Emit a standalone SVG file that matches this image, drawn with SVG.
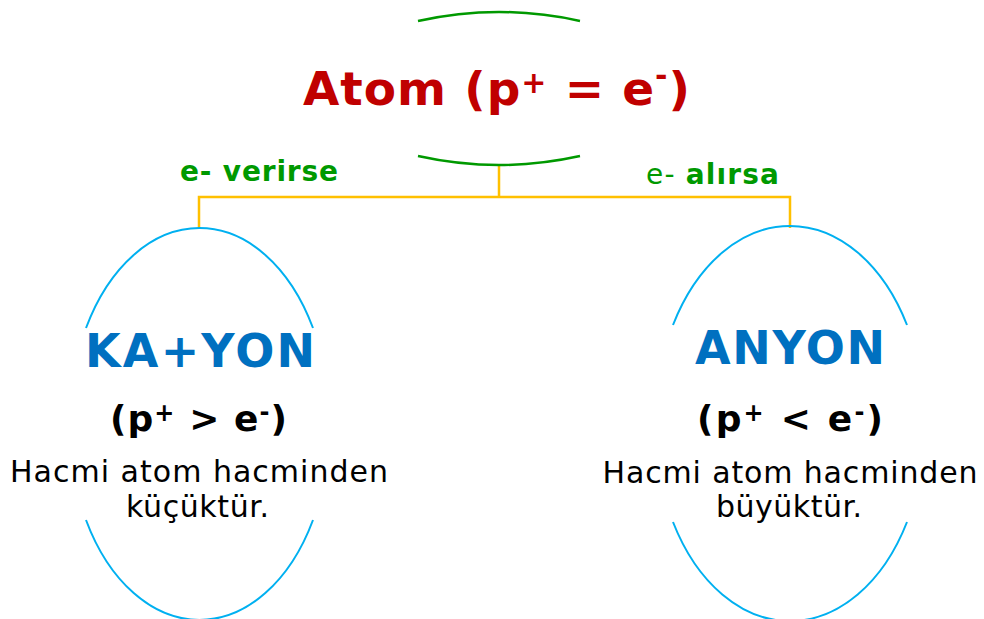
<svg xmlns="http://www.w3.org/2000/svg" width="984" height="619" viewBox="0 0 984 619">
<style>
text{font-family:"DejaVu Sans",Verdana,sans-serif;text-anchor:middle}
.b{font-weight:bold}
.title{fill:#C00000;font-weight:bold;font-size:47px}
.lbl{fill:#009900;font-size:28px}
.ion{fill:#0070C0;font-weight:bold;font-size:46px}
.rel{fill:#000;font-weight:bold;font-size:36px}
.desc{fill:#000;font-size:30px}
.green{fill:none;stroke:#009900;stroke-width:2.5}
.blue{fill:none;stroke:#00B0F0;stroke-width:2}
.conn{fill:none;stroke:#FFC000;stroke-width:2.5}
</style>
<rect width="984" height="619" fill="#fff"/>
<g id="connectors">
<path class="conn" d="M499,166 V197 M199,228 V197 H790 V228"/>
<text class="lbl b" x="259" y="181" textLength="158" lengthAdjust="spacing">e- verirse</text>
<text class="lbl" x="712.5" y="184" textLength="133" lengthAdjust="spacing">e- <tspan class="b">alırsa</tspan></text>
</g>
<g id="atom">
<path class="green" d="M418,21 Q499,3 580,21"/>
<path class="green" d="M418,156 Q499,174 580,156"/>
<text class="title" x="496.5" y="105" textLength="387" lengthAdjust="spacing">Atom (p<tspan font-size="30" dy="-12">+</tspan><tspan dy="12"> = e</tspan><tspan font-size="30" dy="-19">-</tspan><tspan dy="19">)</tspan></text>
</g>
<g id="katyon">
<path class="blue" d="M86,328 A130,195 0 0 1 313,328"/>
<path class="blue" d="M86,520 A130,195 0 0 0 313,520"/>
<text class="ion" x="200" y="367" textLength="230" lengthAdjust="spacing">KA+YON</text>
<text class="rel" x="198.5" y="431" textLength="177" lengthAdjust="spacing">(p<tspan font-size="24" dy="-10">+</tspan><tspan dy="10"> &gt; e</tspan><tspan font-size="24" dy="-11">-</tspan><tspan dy="11">)</tspan></text>
<text class="desc" x="199" y="482" textLength="378" lengthAdjust="spacing">Hacmi atom hacminden</text>
<text class="desc" x="197.5" y="517" textLength="143" lengthAdjust="spacing">küçüktür.</text>
</g>
<g id="anyon">
<path class="blue" d="M673,325 A134.5,195.5 0 0 1 907,325"/>
<path class="blue" d="M673,522 A134.5,195.5 0 0 0 907,522"/>
<text class="ion" x="790" y="364" textLength="190" lengthAdjust="spacing">ANYON</text>
<text class="rel" x="790" y="431" textLength="186" lengthAdjust="spacing">(p<tspan font-size="24" dy="-10">+</tspan><tspan dy="10"> &lt; e</tspan><tspan font-size="24" dy="-11">-</tspan><tspan dy="11">)</tspan></text>
<text class="desc" x="790" y="483" textLength="375" lengthAdjust="spacing">Hacmi atom hacminden</text>
<text class="desc" x="789" y="517" textLength="146" lengthAdjust="spacing">büyüktür.</text>
</g>
</svg>
